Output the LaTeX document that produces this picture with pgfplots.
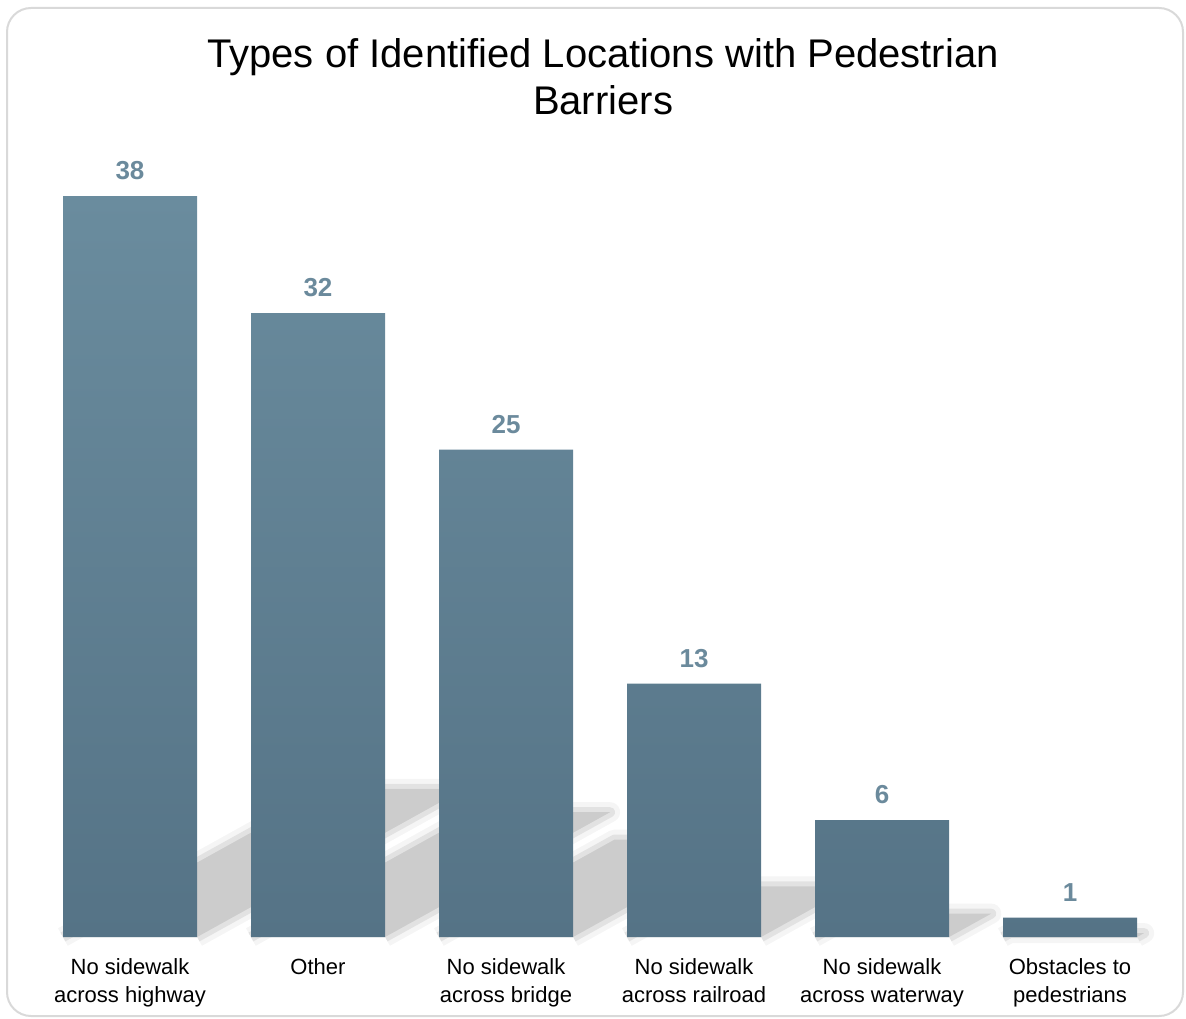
\documentclass[border=0pt]{standalone}
\usepackage{pgfplots}
\usepackage{pgfplotstable}
\pgfplotsset{compat=1.18}
\usepackage{fontspec}
\setmainfont{Liberation Sans}

\definecolor{bartop}{HTML}{6A8C9E}
\definecolor{barbot}{HTML}{557386}
\definecolor{valcol}{HTML}{6B8A9C}
\definecolor{framecol}{HTML}{D9D9D9}
\definecolor{shadowcol}{HTML}{CCCCCC}

\pgfplotstableread{
x v
0 38
1 32
2 25
3 13
4 6
5 1
}\barriers

\begin{document}
\begin{tikzpicture}
\useasboundingbox (-18pt,-40.5pt) rectangle (575pt,468.5pt);
\draw[framecol, line width=1pt, rounded corners=12pt] (-14.5pt,464.5pt) rectangle (573.5pt,-39.5pt);
\node[anchor=base, font=\fontsize{20}{24}\selectfont] at (283.5pt,434.5pt) {Types of Identified Locations with Pedestrian};
\node[anchor=base, font=\fontsize{20}{24}\selectfont] at (283.5pt,411pt) {Barriers};
\begin{axis}[
    at={(0,0)}, anchor=south west,
    scale only axis,
    width=564pt, height=390pt,
    xmin=-0.5, xmax=5.5,
    ymin=0, ymax=40,
    clip=false,
    axis line style={draw=none},
    ytick=\empty,
    xtick=data,
    xtick style={draw=none},
    xticklabels={{No sidewalk\\across highway}, Other, {No sidewalk\\across bridge},
                 {No sidewalk\\across railroad}, {No sidewalk\\across waterway},
                 {Obstacles to\\pedestrians}},
    xticklabel style={font=\fontsize{11}{14}\selectfont, align=center, yshift=-7pt},
    /pgf/number format/assume math mode=true,
]
% soft cast shadows behind the bars, sized from each value
\pgfplotsinvokeforeach{0,...,5}{
    \pgfplotstablegetelem{#1}{v}\of\barriers
    \pgfmathsetmacro\hh{0.2*\pgfplotsretval}
    \pgfmathsetmacro\xs{0.0374*\pgfplotsretval}
    \edef\temp{\noexpand\draw[shadowcol, opacity=0.2, line width=10pt, line join=round]
        (axis cs:#1-0.357,0) -- (axis cs:#1-0.357+\xs,\hh) -- (axis cs:#1+0.357+\xs,\hh) -- (axis cs:#1+0.357,0);
      \noexpand\draw[shadowcol, opacity=0.45, line width=5pt, line join=round]
        (axis cs:#1-0.357,0) -- (axis cs:#1-0.357+\xs,\hh) -- (axis cs:#1+0.357+\xs,\hh) -- (axis cs:#1+0.357,0);
      \noexpand\fill[shadowcol]
        (axis cs:#1-0.357,0) -- (axis cs:#1+0.357,0) -- (axis cs:#1+0.357+\xs,\hh) -- (axis cs:#1-0.357+\xs,\hh) -- cycle;}
    \temp
}

\addplot[ybar, bar width=67pt, draw=none, top color=bartop, bottom color=barbot,
    nodes near coords,
    nodes near coords style={text=valcol, font=\fontsize{13}{15}\selectfont\bfseries, yshift=4.5pt},
] table[x=x, y=v] {\barriers};
\end{axis}
\end{tikzpicture}
\end{document}
